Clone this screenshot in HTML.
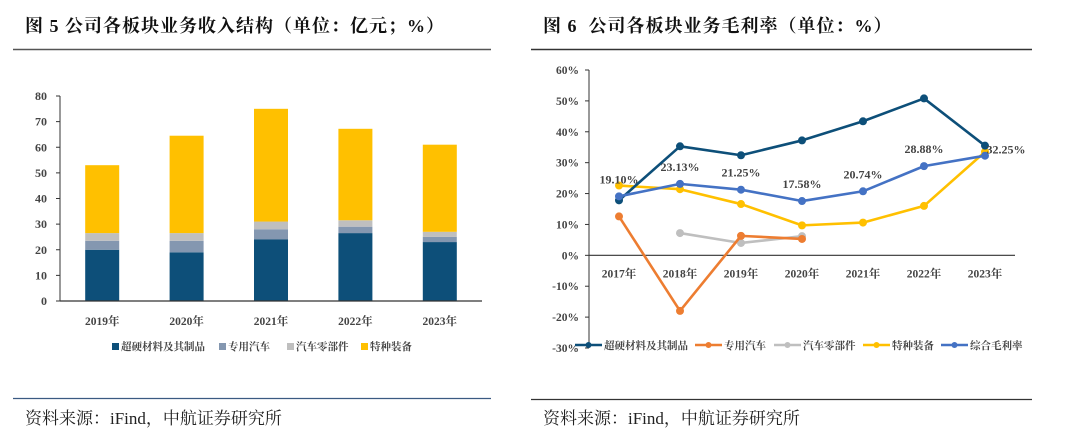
<!DOCTYPE html>
<html><head><meta charset="utf-8">
<style>
html,body{margin:0;padding:0;background:#fff;}
svg{display:block;font-family:"Liberation Serif","Noto Serif CJK SC",serif;}
</style></head>
<body>
<svg id="root" width="1080" height="434" viewBox="0 0 1080 434">
  <text x="25" y="32" font-size="18" font-weight="bold" fill="#111" letter-spacing="1">图 5 公司各板块业务收入结构（单位：亿元；%）</text>
  <line x1="13" y1="49.5" x2="491" y2="49.5" stroke="#555" stroke-width="1.5"/>
  <text x="543" y="32" font-size="18" font-weight="bold" fill="#111" letter-spacing="1" xml:space="preserve">图 6  公司各板块业务毛利率（单位：%）</text>
  <line x1="531" y1="49.5" x2="1032" y2="49.5" stroke="#333" stroke-width="1.5"/>
  <line x1="13" y1="398.5" x2="491" y2="398.5" stroke="#3b5a82" stroke-width="1.2"/>
  <line x1="531" y1="399.5" x2="1032" y2="399.5" stroke="#333" stroke-width="1.2"/>
  <text x="25" y="424" font-size="17" fill="#222">资料来源：iFind，中航证券研究所</text>
  <text x="543" y="424" font-size="17" fill="#222">资料来源：iFind，中航证券研究所</text>
  <g id="bar-chart"></g>
  <g id="line-chart"></g>
</svg>
<script>
const NS = "http://www.w3.org/2000/svg";
// ---- bar chart data ----
const barYears = ["2019年","2020年","2021年","2022年","2023年"];
const superhard = [20, 19, 24, 26.5, 23];
const specialVehicle = [3.5, 4.5, 4, 2.5, 2];
const autoParts = [3, 3, 3, 2.5, 2];
const specialEquip = [26.5, 38, 44, 35.7, 34];
const barTicks = [0,10,20,30,40,50,60,70,80];
const barSeriesNames = ["超硬材料及其制品","专用汽车","汽车零部件","特种装备"];

// ---- line chart data ----
const lineYears = ["2017年","2018年","2019年","2020年","2021年","2022年","2023年"];
const lineSuperhard = [17.8, 35.3, 32.4, 37.2, 43.4, 50.8, 35.5];
const lineSpecialVehicle = [12.6, -18, 6.3, 5.3, null, null, null];
const lineAutoParts = [null, 7.2, 4.0, 6.2, null, null, null];
const lineSpecialEquip = [22.6, 21.4, 16.6, 9.7, 10.6, 16.0, 33.5];
const lineTotal = [19.10, 23.13, 21.25, 17.58, 20.74, 28.88, 32.25];
const lineTotalLabels = ["19.10%","23.13%","21.25%","17.58%","20.74%","28.88%","32.25%"];
const lineTicks = [-30,-20,-10,0,10,20,30,40,50,60];
const lineSeriesNames = ["超硬材料及其制品","专用汽车","汽车零部件","特种装备","综合毛利率"];

function mk(tag, attrs, parent, text){
  const e = document.createElementNS(NS, tag);
  for (const k in attrs) e.setAttribute(k, attrs[k]);
  if (text !== undefined) e.textContent = text;
  parent.appendChild(e);
  return e;
}

// ===== Bar chart =====
(function(){
  const g = document.getElementById('bar-chart');
  const x0 = 60, x1 = 482, yBase = 301, yTop = 96, vMax = 80;
  const y = v => yBase - v / vMax * (yBase - yTop);
  const band = (x1 - x0) / barYears.length;
  const xc = i => x0 + band * (i + 0.5);
  const bw = 34;
  barTicks.forEach(t => {
    const lab = mk('text', {x: x0 - 13, y: y(t) + 4, 'font-size': 12, 'text-anchor': 'end', fill: '#444', 'font-weight': 'bold'}, g, String(t));
    
    
    const tk = mk('line', {x1: x0 - 4, x2: x0, y1: y(t), y2: y(t), stroke: '#333', 'stroke-width': 1}, g);
    
    
  });
  const series = [superhard, specialVehicle, autoParts, specialEquip];
  const colors = ["#0d4f79", "#8497b0", "#bfbfbf", "#ffc000"];
  barYears.forEach((yr, i) => {
    let acc = 0;
    series.forEach((s, k) => {
      const v = s[i];
      const r = mk('rect', {x: xc(i) - bw/2, y: y(acc + v), width: bw, height: y(acc) - y(acc + v), fill: colors[k]}, g);
      
      
      acc += v;
    });
    const lab = mk('text', {x: xc(i), y: 325, 'font-size': 11.5, 'text-anchor': 'middle', fill: '#444', 'font-weight': 'bold'}, g, yr);
    
    
  });
  const ax = mk('line', {x1: x0, x2: x0, y1: yTop, y2: yBase, stroke: '#333', 'stroke-width': 1}, g);
  
  
  const bx = mk('line', {x1: x0, x2: x1, y1: yBase, y2: yBase, stroke: '#333', 'stroke-width': 1.2}, g);
  
  
  const legX = [112, 219, 287, 361];
  barSeriesNames.forEach((n, k) => {
    const sw = mk('rect', {x: legX[k], y: 343, width: 7, height: 7, fill: colors[k]}, g);
    
    
    const t = mk('text', {x: legX[k] + 9, y: 350, 'font-size': 10.5, fill: '#444', 'font-weight': 'bold'}, g, n);
    
    
  });
})();

// ===== Line chart =====
(function(){
  const g = document.getElementById('line-chart');
  const x0 = 589, x1 = 1015, vMin = -30, vMax = 60, yMin = 348, yMax = 70;
  const y = v => yMin - (v - vMin) / (vMax - vMin) * (yMin - yMax);
  const x = i => 619 + i * 61;
  lineTicks.forEach(t => {
    const lab = mk('text', {x: x0 - 10, y: y(t) + 4, 'font-size': 11.5, 'text-anchor': 'end', fill: '#444', 'font-weight': 'bold'}, g, t + '%');
    
    
    const tk = mk('line', {x1: x0 - 4, x2: x0, y1: y(t), y2: y(t), stroke: '#333', 'stroke-width': 1}, g);
    
    
  });
  const ax = mk('line', {x1: x0, x2: x0, y1: yMax, y2: yMin, stroke: '#333', 'stroke-width': 1}, g);
  
  
  const bx = mk('line', {x1: x0, x2: x1, y1: y(0), y2: y(0), stroke: '#333', 'stroke-width': 1.2}, g);
  
  
  lineYears.forEach((yr, i) => {
    const lab = mk('text', {x: x(i), y: y(0) + 22, 'font-size': 11.5, 'text-anchor': 'middle', fill: '#444', 'font-weight': 'bold'}, g, yr);
    
    
  });
  const series = [lineSuperhard, lineSpecialVehicle, lineAutoParts, lineSpecialEquip, lineTotal];
  const colors = ["#0d4f79", "#ed7d31", "#bfbfbf", "#ffc000", "#4472c4"];
  const order = [2, 1, 3, 0, 4];
  order.forEach(k => {
    const s = series[k];
    let d = '';
    let started = false;
    s.forEach((v, i) => {
      if (v === null) { started = false; return; }
      d += (started ? 'L' : 'M') + x(i) + ',' + y(v);
      started = true;
    });
    const p = mk('path', {d: d, fill: 'none', stroke: colors[k], 'stroke-width': 2.6, 'stroke-linejoin': 'round'}, g);
    
    
    s.forEach((v, i) => {
      if (v === null) return;
      const c = mk('circle', {cx: x(i), cy: y(v), r: 4, fill: colors[k]}, g);
      
      
    });
  });
  lineTotal.forEach((v, i) => {
    const lx = i === 6 ? x(i) + 21 : x(i);
    const ly = i === 6 ? y(v) - 2 : y(v) - 13;
    const t = mk('text', {x: lx, y: ly, 'font-size': 12, 'text-anchor': 'middle', fill: '#444', 'font-weight': 'bold'}, g, lineTotalLabels[i]);
    
    
  });
  const legX = [575, 695, 774, 863, 941];
  lineSeriesNames.forEach((n, k) => {
    const ln = mk('line', {x1: legX[k], x2: legX[k] + 27, y1: 345, y2: 345, stroke: colors[k], 'stroke-width': 2.6}, g);
    
    
    const c = mk('circle', {cx: legX[k] + 13.5, cy: 345, r: 3, fill: colors[k]}, g);
    
    
    const t = mk('text', {x: legX[k] + 29, y: 349, 'font-size': 10.5, fill: '#444', 'font-weight': 'bold'}, g, n);
    
    
  });
})();
</script>
</body></html>
